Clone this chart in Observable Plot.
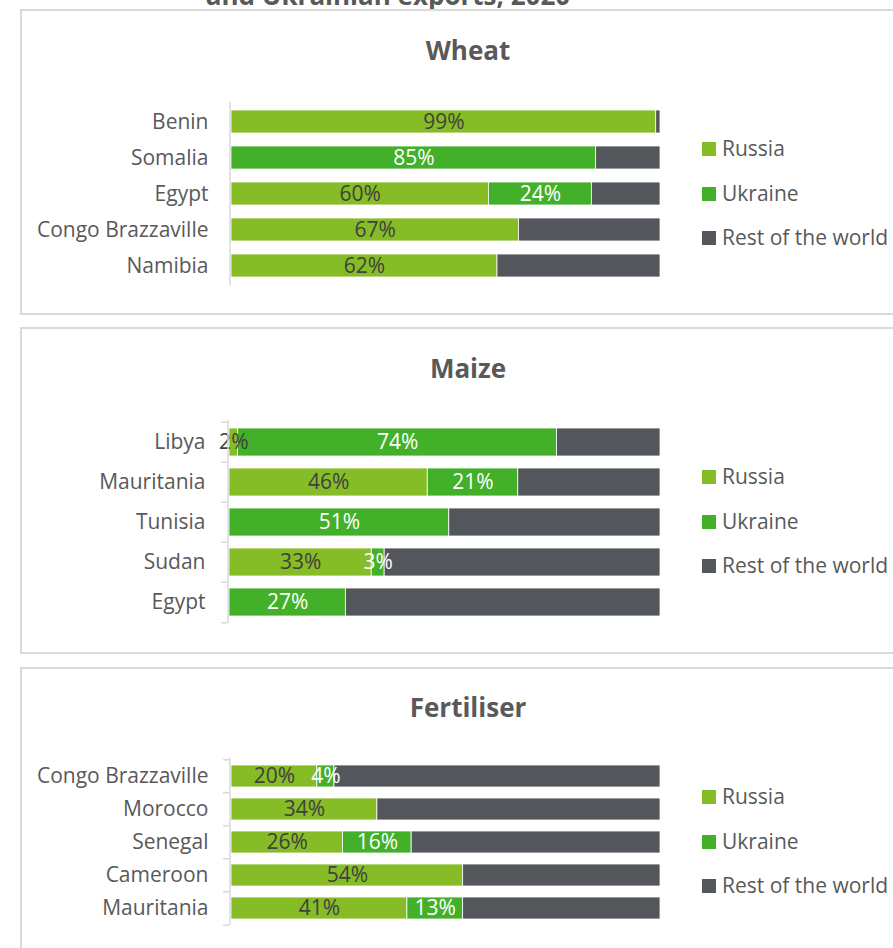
<!DOCTYPE html>
<html><head><meta charset="utf-8">
<script src="https://cdn.jsdelivr.net/npm/d3@7"></script>
<script src="https://cdn.jsdelivr.net/npm/@observablehq/plot@0.6"></script>
<style>
html,body{margin:0;padding:0;background:#fff;}
body{width:893px;height:948px;overflow:hidden;position:relative;font-family:"Open Sans",Lato,sans-serif;color:#595959;}
.panel{position:absolute;left:20px;width:900px;border:2px solid #d9d9d9;box-sizing:border-box;}
.title{position:absolute;left:0;width:936px;text-align:center;font-weight:bold;font-size:26px;line-height:30px;color:#595959;}
.toptitle{position:absolute;left:0;width:776px;text-align:center;font-weight:bold;font-size:26px;line-height:30px;color:#595959;top:-20px;}
.chart{position:absolute;left:0;}
.legend{position:absolute;left:702px;}
.legend .item{position:absolute;left:0;height:20px;white-space:nowrap;font-size:21px;line-height:20px;}
.legend .sw{position:absolute;left:0;top:3px;width:14px;height:14px;}
.legend .lb{position:absolute;left:20px;top:-1px;}
</style>
</head><body>
<div class="toptitle">and Ukrainian exports, 2020</div>
<div class="panel" style="top:9px;height:306px"></div>
<div class="panel" style="top:327px;height:327px"></div>
<div class="panel" style="top:667px;height:300px"></div>
<div class="title" style="top:35px">Wheat</div>
<div class="title" style="top:353px">Maize</div>
<div class="title" style="top:692px">Fertiliser</div>
<div id="c1" class="chart" style="top:90px"></div>
<div id="c2" class="chart" style="top:410px"></div>
<div id="c3" class="chart" style="top:748px"></div>
<div id="l1" class="legend" style="top:139px"></div>
<div id="l2" class="legend" style="top:467px"></div>
<div id="l3" class="legend" style="top:787px"></div>
<script>
const series = ["Russia", "Ukraine", "Rest of the world"];
const seriesColors = ["#86BC25", "#43B02A", "#53565A"];

const wheatCountries = ["Benin", "Somalia", "Egypt", "Congo Brazzaville", "Namibia"];
const wheatRussia = [99, 0, 60, 67, 62];
const wheatUkraine = [0, 85, 24, 0, 0];
const wheatRest = [1, 15, 16, 33, 38];

const maizeCountries = ["Libya", "Mauritania", "Tunisia", "Sudan", "Egypt"];
const maizeRussia = [2, 46, 0, 33, 0];
const maizeUkraine = [74, 21, 51, 3, 27];
const maizeRest = [24, 33, 49, 64, 73];

const fertCountries = ["Congo Brazzaville", "Morocco", "Senegal", "Cameroon", "Mauritania"];
const fertRussia = [20, 34, 26, 54, 41];
const fertUkraine = [4, 0, 16, 0, 13];
const fertRest = [76, 66, 58, 46, 46];

function makeRows(countries, russia, ukraine, rest) {
  const rows = [];
  countries.forEach((c, i) => {
    const vals = [russia[i], ukraine[i], rest[i]];
    series.forEach((s, j) => rows.push({country: c, series: s, value: vals[j]}));
  });
  return rows;
}

function makeChart(el, cfg) {
  const rows = makeRows(cfg.countries, cfg.russia, cfg.ukraine, cfg.rest);
  const n = cfg.countries.length;
  const step = (cfg.height - cfg.marginTop - cfg.marginBottom) / n;
  const marks = [
    Plot.barX(rows, Plot.stackX({x: "value", y: "country", fill: "series", stroke: "white", strokeWidth: 0.8})),
    Plot.text(rows, Plot.stackX({x: "value", y: "country",
      text: d => d.series === "Russia" && d.value > 0 ? d.value + "%" : "",
      fill: "#404040", fontSize: 21})),
    Plot.text(rows, Plot.stackX({x: "value", y: "country",
      text: d => d.series === "Ukraine" && d.value > 0 ? d.value + "%" : "",
      fill: "white", fontSize: 21})),
    Plot.ruleX([0], {stroke: "#d9d9d9", strokeWidth: 1.5, dx: -1.5}),
    Plot.axisY({tickSize: 0, tickPadding: cfg.tickPadding, fontSize: 21, fill: "#595959", label: null})
  ];
  if (cfg.ticks) {
    marks.push(Plot.ruleY(cfg.countries, {y: d => d, x1: -1.5, x2: 0, dx: -1.5, dy: -step / 2, stroke: "#d9d9d9", strokeWidth: 1.5}));
    marks.push(Plot.ruleY([cfg.countries[n - 1]], {y: d => d, x1: -1.5, x2: 0, dx: -1.5, dy: step / 2, stroke: "#d9d9d9", strokeWidth: 1.5}));
  }
  const chart = Plot.plot({
    width: 893,
    height: cfg.height,
    marginTop: cfg.marginTop,
    marginBottom: cfg.marginBottom,
    marginLeft: cfg.marginLeft,
    marginRight: 233,
    style: {fontFamily: "'Open Sans', Lato, sans-serif", fontSize: "21px", color: "#595959", background: "transparent", overflow: "visible"},
    x: {domain: [0, 100], axis: null},
    y: {domain: cfg.countries, paddingInner: cfg.padding, paddingOuter: cfg.padding / 2, axis: null},
    color: {domain: series, range: seriesColors},
    marks
  });
  el.appendChild(chart);
}

function makeLegend(el) {
  series.forEach((s, i) => {
    const item = document.createElement("div");
    item.className = "item";
    item.style.top = (i * 44.5) + "px";
    item.innerHTML = `<span class="sw" style="background:${seriesColors[i]}"></span><span class="lb">${s}</span>`;
    el.appendChild(item);
  });
}

makeChart(document.getElementById("c1"), {countries: wheatCountries, russia: wheatRussia, ukraine: wheatUkraine, rest: wheatRest,
  height: 200, marginTop: 12, marginBottom: 5, marginLeft: 231, padding: 0.35, tickPadding: 23, ticks: false});
makeChart(document.getElementById("c2"), {countries: maizeCountries, russia: maizeRussia, ukraine: maizeUkraine, rest: maizeRest,
  height: 218, marginTop: 10, marginBottom: 5, marginLeft: 229, padding: 0.31, tickPadding: 24, ticks: true});
makeChart(document.getElementById("c3"), {countries: fertCountries, russia: fertRussia, ukraine: fertUkraine, rest: fertRest,
  height: 182, marginTop: 10, marginBottom: 5, marginLeft: 231, padding: 0.34, tickPadding: 23, ticks: true});
makeLegend(document.getElementById("l1"));
makeLegend(document.getElementById("l2"));
makeLegend(document.getElementById("l3"));
</script>
</body></html>
